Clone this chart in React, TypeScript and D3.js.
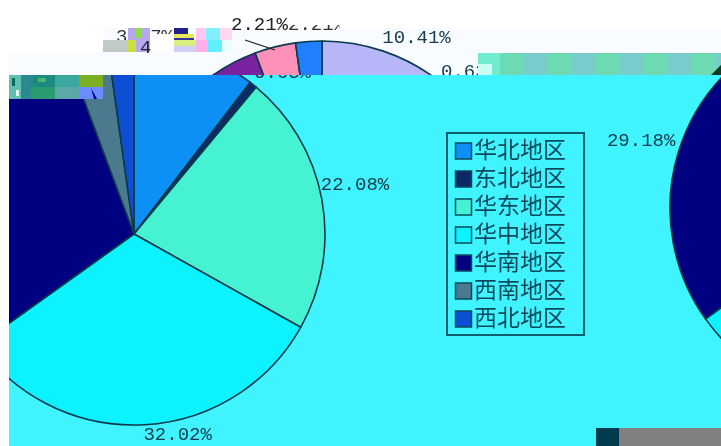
import React from "react";
import * as d3 from "d3";

const categories = ["华北地区", "东北地区", "华东地区", "华中地区", "华南地区", "西南地区", "西北地区"];
const shares = [10.41, 0.63, 22.08, 32.02, 29.18, 3.47, 2.21];
const mainColors = ["#0a90f6", "#0b2c68", "#45f2d2", "#08f2ff", "#000080", "#4c7a8e", "#0a50d2"];
const ghostColors = ["#b6b6f8", "#f2d0f0", "#d8ffe8", "#ffffff", "#7a20a0", "#ff90b8", "#2080ff"];
const labelsMain = [2, 3];
const labelsGhost = [0];
const labelsRight = [4];

const W = 721, H = 446, R = 191;
const MONO = "'Liberation Mono', monospace";
const INK = "#123a4c";

// Corrupted mosaic blocks of the image: x, y, w, h, colour
const mosaic: [number, number, number, number, string][] = [
  [103, 40, 25, 12, "#c2cac8"],
  [128, 28, 22, 24, "#b8a8f0"],
  [128, 40, 8, 12, "#c8e040"],
  [136, 28, 6, 10, "#90e040"],
  [150, 34, 24, 18, "#ffffff"],
  [174, 28, 14, 6, "#20208c"],
  [174, 34, 20, 4, "#e8e858"],
  [174, 38, 20, 2, "#3030a0"],
  [174, 40, 26, 6, "#d8f080"],
  [174, 46, 22, 6, "#d0d0f8"],
  [196, 28, 10, 12, "#ffc8f0"],
  [206, 28, 14, 12, "#80f0ff"],
  [220, 28, 12, 12, "#ffd8f0"],
  [196, 40, 12, 12, "#ffb0e8"],
  [208, 40, 14, 12, "#60f0ff"],
  [222, 40, 10, 12, "#e8ffff"],
  [9, 75, 12, 24, "#60c0b0"],
  [12, 78, 3, 8, "#0e6a60"],
  [16, 90, 3, 6, "#e0fff0"],
  [21, 75, 10, 24, "#2a8a90"],
  [31, 75, 24, 12, "#1c8a80"],
  [38, 78, 8, 4, "#50b070"],
  [31, 87, 24, 12, "#2a9a70"],
  [55, 75, 24, 12, "#3aa8a0"],
  [55, 87, 24, 12, "#5ca8a8"],
  [79, 75, 24, 12, "#7cae20"],
  [79, 87, 24, 12, "#6a8cff"],
  [478, 53, 22, 22, "#70ecd0"],
  [478, 64, 14, 11, "#c8fff0"],
];
const stripes = d3.range(500, 721, 24);

const pieData = d3.pie<number>().sort(null).value(d => d)(shares);
const arc = d3.arc<d3.PieArcDatum<number>>().innerRadius(0).outerRadius(R);

function Pie({ cx, cy, colors }: { cx: number; cy: number; colors: string[] }) {
  return (
    <g transform={`translate(${cx},${cy})`}>
      {pieData.map((d, i) => (
        <path key={i} d={arc(d) as string} fill={colors[i]} stroke="#0a3a4c" strokeWidth={1.6} />
      ))}
    </g>
  );
}

function Labels({ cx, cy, idx, dy }: { cx: number; cy: number; idx: number[]; dy: (a: number) => number }) {
  return (
    <g fontFamily={MONO} fontSize={19} fill={INK} dominantBaseline="central">
      {idx.map(i => {
        const a = (pieData[i].startAngle + pieData[i].endAngle) / 2;
        const x = cx + R * Math.sin(a);
        const y = cy - R * Math.cos(a);
        return (
          <text key={i} x={x - (Math.sin(a) >= 0 ? 1 : 3)} y={y + dy(a)} textAnchor={Math.sin(a) >= 0 ? "start" : "end"}>
            {shares[i].toFixed(2)}%
          </text>
        );
      })}
    </g>
  );
}

export default function App() {
  return (
    <svg
      width={W}
      height={H}
      viewBox={`0 0 ${W} ${H}`}
      style={{ position: "fixed", left: 0, top: 0, display: "block", background: "#fff" }}
    >
      <defs>
        <clipPath id="top"><rect x={0} y={0} width={W} height={75} /></clipPath>
        <clipPath id="main"><rect x={9} y={75} width={W - 9} height={H - 75} /></clipPath>
        <clipPath id="sliver"><rect x={288} y={25} width={52} height={6} /></clipPath>
        <filter id="soft" x="0" y="0" width="100%" height="100%">
          <feGaussianBlur stdDeviation={0.45} />
        </filter>
      </defs>
      <g filter="url(#soft)">
        {/* pale upper strip */}
        <rect x={103} y={28} width={W - 103} height={47} fill="#f8fbff" />
        <rect x={9} y={53} width={W - 9} height={22} fill="#f8fbff" />

        {/* upper displaced pie */}
        <g clipPath="url(#top)">
          <Pie cx={322} cy={232} colors={ghostColors} />
          <Labels cx={322} cy={232} idx={labelsGhost} dy={() => -13} />
          <text x={441} y={77} fontFamily={MONO} fontSize={19} fill={INK}>{shares[1].toFixed(2)}%</text>
          <text x={231} y={30} fontFamily={MONO} fontSize={19} fill="#222">{shares[6].toFixed(2)}%</text>
          <text x={116} y={42} fontFamily={MONO} fontSize={19} fill="#333">{shares[5].toFixed(2)}%</text>
          <line x1={245} y1={40} x2={275} y2={50} stroke="#223" strokeWidth={1.2} />
        </g>
        <g clipPath="url(#sliver)">
          <text x={288} y={30} fontFamily={MONO} fontSize={19} fill="#333">{shares[6].toFixed(2)}%</text>
        </g>

        {/* top corrupted right-hand band */}
        {stripes.map((x, i) => (
          <rect key={x} x={x} y={53} width={24} height={22} fill={i % 2 ? "#78cccc" : "#6cdab2"} />
        ))}
        <path d="M711,75 L721,65 L721,75 Z" fill="#0a3a20" />

        {/* main panel */}
        <rect x={9} y={75} width={W - 9} height={H - 75} fill="#40f4ff" />
        <g clipPath="url(#main)">
          <Pie cx={134} cy={234} colors={mainColors} />
          <Pie cx={861} cy={208} colors={mainColors} />
          <Labels cx={134} cy={234} idx={labelsMain} dy={a => (Math.cos(a) < 0 ? 10 : -14)} />
          <Labels cx={861} cy={208} idx={labelsRight} dy={() => -11} />
          <text x={254} y={78} fontFamily={MONO} fontSize={19} fill={INK}>{shares[1].toFixed(2)}%</text>
          {/* bottom-right blocks */}
          <rect x={596} y={428} width={23} height={18} fill="#033a4e" />
          <rect x={619} y={428} width={102} height={18} fill="#808080" />
        </g>

        {/* mosaic */}
        {mosaic.map(([x, y, w, h, c], i) => (
          <rect key={i} x={x} y={y} width={w} height={h} fill={c} />
        ))}
        <path d="M91,88 L94,99 L97,99 Z" fill="#000080" />
        <text x={140} y={53} fontFamily={MONO} fontSize={19} fill="#222">4</text>

        {/* legend */}
        <rect x={447} y={133} width={137} height={202} fill="none" stroke="#0f5f70" strokeWidth={2} />
        {categories.map((c, i) => (
          <g key={c} transform={`translate(0,${151 + i * 28})`}>
            <rect x={455.5} y={-8} width={16} height={16} fill={mainColors[i]} stroke="#0b4a5c" strokeWidth={1.5} />
            <text
              x={474}
              y={-3}
              fontFamily="'Noto Sans CJK SC', sans-serif"
              fontSize={23}
              fontWeight={400}
              fill="#0f4a5c"
              dominantBaseline="central"
            >
              {c}
            </text>
          </g>
        ))}
      </g>
    </svg>
  );
}
